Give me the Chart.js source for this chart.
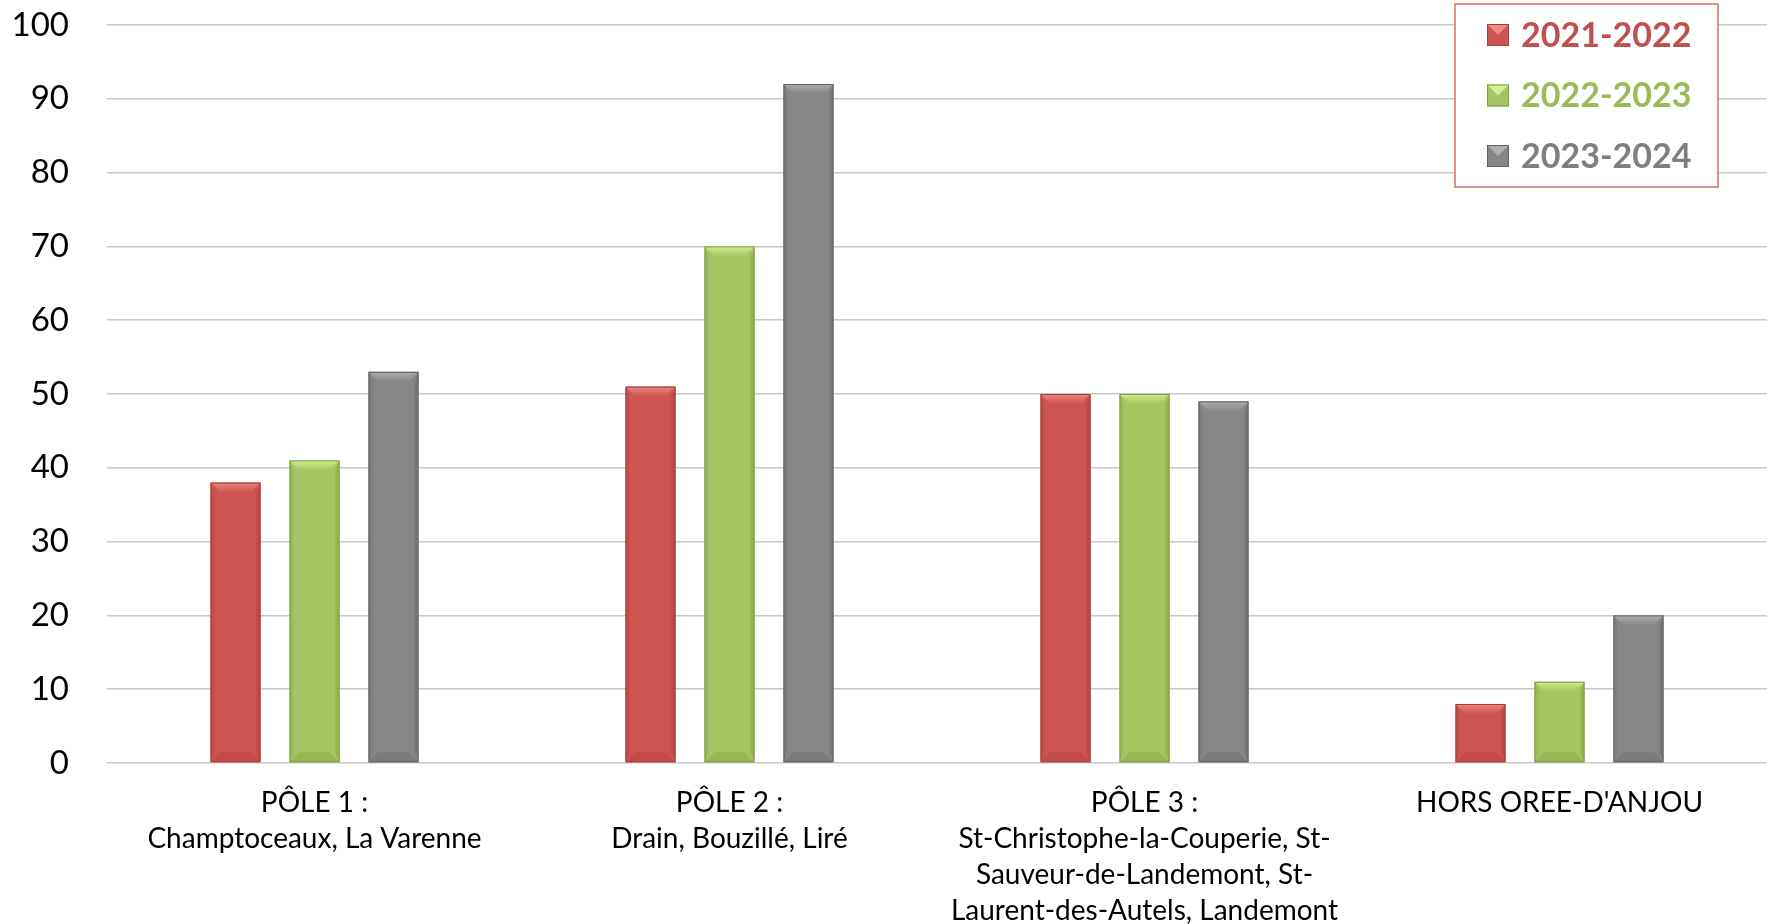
<!DOCTYPE html>
<html>
<head>
<meta charset="utf-8">
<script src="https://cdn.jsdelivr.net/npm/chart.js@4/dist/chart.umd.min.js"></script>
<style>
  html, body { margin: 0; padding: 0; background: #ffffff; }
  #wrap { width: 1773px; height: 924px; }
</style>
</head>
<body>
<div id="wrap"><canvas id="c" width="1773" height="924"></canvas></div>
<script>
const categories = [
  ["PÔLE 1 :", "Champtoceaux, La Varenne"],
  ["PÔLE 2 :", "Drain, Bouzillé, Liré"],
  ["PÔLE 3 :", "St-Christophe-la-Couperie, St-", "Sauveur-de-Landemont, St-", "Laurent-des-Autels, Landemont"],
  "HORS OREE-D'ANJOU"
];
const seriesNames = ["2021-2022", "2022-2023", "2023-2024"];
const values2021 = [38, 51, 50, 8];
const values2022 = [41, 70, 50, 11];
const values2023 = [53, 92, 49, 20];
const yTicks = [0, 10, 20, 30, 40, 50, 60, 70, 80, 90, 100];

const fills   = ["#cd5451", "#a5c462", "#868686"];
const lights  = ["#ec8a87", "#d6f090", "#b0b0b0"];
const darks   = ["#b4423f", "#8aa94a", "#6e6e6e"];
const borders = ["#a63d3a", "#7f9c44", "#636363"];
const textCols = ["#c0504d", "#9bbb59", "#7f7f7f"];

const bevelPlugin = {
  id: 'bevel',
  afterDatasetsDraw(chart) {
    const ctx = chart.ctx;
    chart.data.datasets.forEach((ds, i) => {
      const meta = chart.getDatasetMeta(i);
      meta.data.forEach(bar => {
        const p = bar.getProps(['x', 'y', 'base', 'width'], true);
        const l = p.x - p.width / 2, r = p.x + p.width / 2, t = p.y, b = p.base;
        const d = Math.min(10, (b - t) / 3);
        const s = Math.min(4, (b - t) / 6);
        ctx.save();
        ctx.fillStyle = darks[i]; ctx.globalAlpha = 0.35;
        ctx.beginPath(); ctx.moveTo(l, t); ctx.lineTo(l + s, t + d); ctx.lineTo(l + s, b - d); ctx.lineTo(l, b); ctx.closePath(); ctx.fill();
        ctx.globalAlpha = 0.6;
        ctx.beginPath(); ctx.moveTo(r, t); ctx.lineTo(r - s, t + d); ctx.lineTo(r - s, b - d); ctx.lineTo(r, b); ctx.closePath(); ctx.fill();
        ctx.globalAlpha = 0.45;
        ctx.beginPath(); ctx.moveTo(l, b); ctx.lineTo(r, b); ctx.lineTo(r - d, b - d); ctx.lineTo(l + d, b - d); ctx.closePath(); ctx.fill();
        ctx.globalAlpha = 0.95;
        const g = ctx.createLinearGradient(0, t, 0, t + d);
        g.addColorStop(0, lights[i]); g.addColorStop(1, fills[i]);
        ctx.fillStyle = g;
        ctx.beginPath(); ctx.moveTo(l, t); ctx.lineTo(r, t); ctx.lineTo(r - d, t + d); ctx.lineTo(l + d, t + d); ctx.closePath(); ctx.fill();
        ctx.globalAlpha = 1;
        ctx.strokeStyle = borders[i]; ctx.lineWidth = 1;
        ctx.strokeRect(l + 0.5, t + 0.5, r - l - 1, b - t - 1);
        ctx.restore();
      });
    });
  }
};

const legendPlugin = {
  id: 'boxLegend',
  afterDraw(chart) {
    const ctx = chart.ctx;
    const bx = 1455, by = 4, bw = 263, bh = 183;
    ctx.save();
    ctx.fillStyle = '#ffffff';
    ctx.fillRect(bx, by, bw, bh);
    ctx.strokeStyle = '#d36f6c';
    ctx.lineWidth = 1.5;
    ctx.strokeRect(bx, by, bw, bh);
    ctx.font = 'bold 34px Lato';
    ctx.textBaseline = 'middle';
    ctx.textAlign = 'left';
    chart.data.datasets.forEach((ds, i) => {
      const cy = 35 + i * 60.5;
      const sx = 1487, sz = 22;
      ctx.fillStyle = fills[i];
      ctx.fillRect(sx, cy - sz / 2, sz, sz);
      ctx.fillStyle = lights[i];
      ctx.beginPath(); ctx.moveTo(sx, cy - sz / 2); ctx.lineTo(sx + sz, cy - sz / 2); ctx.lineTo(sx + sz / 2, cy); ctx.closePath(); ctx.fill();
      ctx.strokeStyle = borders[i]; ctx.lineWidth = 1;
      ctx.strokeRect(sx + 0.5, cy - sz / 2 + 0.5, sz - 1, sz - 1);
      ctx.fillStyle = textCols[i];
      ctx.fillText(ds.label, 1521, cy + 1);
    });
    ctx.restore();
  }
};

const allValues = [values2021, values2022, values2023];
new Chart(document.getElementById('c'), {
  type: 'bar',
  data: {
    labels: categories,
    datasets: seriesNames.map((name, i) => ({
      label: name,
      data: allValues[i],
      backgroundColor: fills[i],
      borderWidth: 0,
      categoryPercentage: 0.571,
      barPercentage: 0.633
    }))
  },
  options: {
    responsive: false,
    animation: false,
    devicePixelRatio: 1,
    layout: { padding: { top: 25, right: 6, left: 0, bottom: 0 } },
    plugins: { legend: { display: false }, tooltip: { enabled: false } },
    scales: {
      x: {
        grid: { display: false, drawTicks: false },
        border: { display: false },
        ticks: {
          color: '#000000',
          font: { family: 'Lato', size: 28, lineHeight: 1.29 },
          padding: 22,
          maxRotation: 0,
          autoSkip: false
        },
        afterFit(scale) { scale.height = 161; scale.paddingLeft = 0; scale.paddingRight = 0; }
      },
      y: {
        min: 0, max: 100,
        afterBuildTicks(scale) { scale.ticks = yTicks.map(v => ({ value: v })); },
        grid: { color: '#c8c8c8', lineWidth: 1.5, drawTicks: false },
        border: { display: false },
        ticks: {
          color: '#000000',
          font: { family: 'Lato', size: 33 },
          padding: 38
        },
        afterFit(scale) { scale.width = 107; scale.paddingTop = 0; scale.paddingBottom = 0; }
      }
    }
  },
  plugins: [bevelPlugin, legendPlugin]
});
</script>
</body>
</html>
